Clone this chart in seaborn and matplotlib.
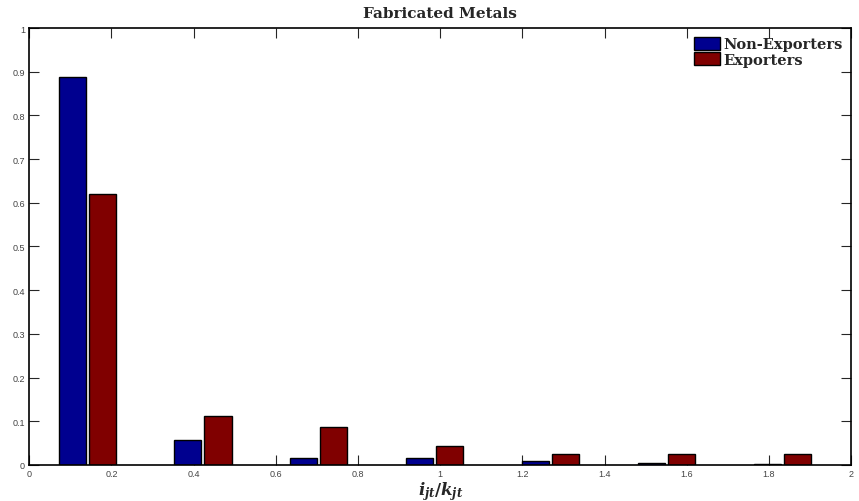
import matplotlib
import matplotlib.pyplot as plt
import numpy as np
import pandas as pd
import seaborn as sns

matplotlib.use("Agg")

# histogram of investment rate, 7 bins over the observed range
bin_edges = np.linspace(0, 1.973, 8)
bin_centers = (bin_edges[:-1] + bin_edges[1:]) / 2
non_exporters = [0.889, 0.057, 0.015, 0.015, 0.008, 0.004, 0.002]
exporters = [0.620, 0.112, 0.087, 0.043, 0.024, 0.024, 0.024]
groups = ["Non-Exporters", "Exporters"]
colors = {"Non-Exporters": "#00008f", "Exporters": "#800000"}

df = pd.DataFrame(
    {
        "center": np.concatenate([bin_centers, bin_centers]),
        "share": non_exporters + exporters,
        "group": [groups[0]] * len(non_exporters) + [groups[1]] * len(exporters),
    }
)

sns.set_theme(style="ticks")
plt.rcParams["font.family"] = ["Liberation Sans", "DejaVu Sans"]
plt.rcParams["mathtext.fontset"] = "custom"
plt.rcParams["mathtext.it"] = "DejaVu Serif:italic:bold"
plt.rcParams["mathtext.rm"] = "DejaVu Serif:bold"

fig = plt.figure(figsize=(8.59, 5.02), dpi=100)
ax = fig.add_axes([0.034, 0.072, 0.957, 0.870])

sns.barplot(
    data=df,
    x="center",
    y="share",
    hue="group",
    hue_order=groups,
    palette=colors,
    native_scale=True,
    width=0.52,
    gap=0.1,
    edgecolor="black",
    linewidth=1.0,
    saturation=1,
    ax=ax,
)

ax.set_xlim(0, 2)
ax.set_ylim(0, 1)
ax.set_xticks(np.arange(0, 2.01, 0.2))
ax.set_xticklabels(["0", "0.2", "0.4", "0.6", "0.8", "1", "1.2", "1.4", "1.6", "1.8", "2"])
ax.set_yticks(np.arange(0, 1.01, 0.1))
ax.set_yticklabels(["0", "0.1", "0.2", "0.3", "0.4", "0.5", "0.6", "0.7", "0.8", "0.9", "1"])
ax.tick_params(
    direction="in", length=7, width=0.8, labelsize=6.5, labelcolor="#444444",
    top=True, right=True, pad=3,
)
for s in ax.spines.values():
    s.set_linewidth(1.2)
    s.set_color("black")

ax.set_title("Fabricated Metals", fontsize=11, fontweight="bold", family="DejaVu Serif", pad=8)
ax.set_xlabel(r"$i_{jt}/k_{jt}$", fontsize=12, labelpad=1)
ax.set_ylabel("")

ax.legend(
    loc="upper right",
    frameon=False,
    prop={"family": "DejaVu Serif", "weight": "bold", "size": 10.5},
    handlelength=1.8,
    handleheight=1.0,
    handletextpad=0.2,
    labelspacing=0.05,
    borderaxespad=0.2,
    title=None,
)

fig.savefig("out.png", dpi=100)
plt.close(fig)
